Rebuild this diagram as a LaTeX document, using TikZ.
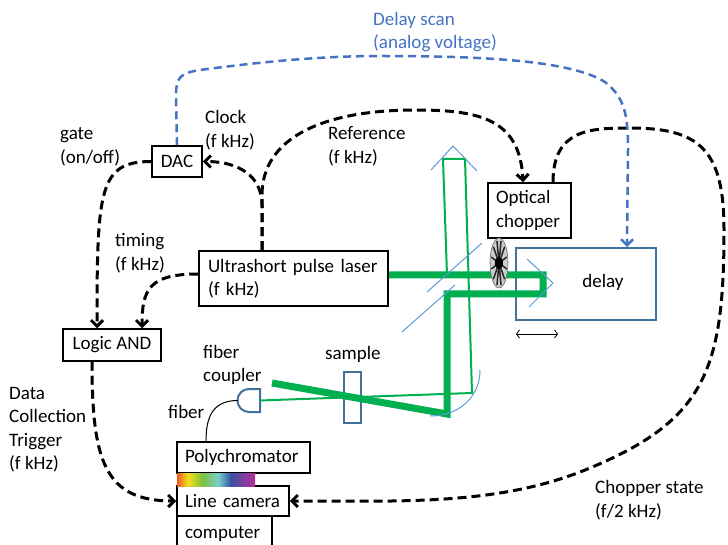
\documentclass[tikz,border=0pt]{standalone}
\usepackage{fontspec}
\setmainfont{Carlito}
\usepackage{tikz}
\usetikzlibrary{arrows.meta, positioning}

\definecolor{vertFaisceau}{HTML}{00B050}
\definecolor{bleuMiroir}{HTML}{5B9BD5}
\definecolor{bleuBoite}{HTML}{41719C}
\definecolor{bleuSignal}{HTML}{4472C4}

\begin{document}
\begin{tikzpicture}[
		x=1pt, y=-1pt,
		every node/.style={font=\fontsize{19}{23.5}\selectfont},
		% Styles des boites
		boite/.style={draw=black, fill=white, line width=1.5pt, inner sep=0pt},
		boiteTexte/.style={boite, align=left, inner xsep=8pt},
		etiquette/.style={align=left, anchor=west, inner sep=0pt},
		% Styles des signaux
		signal/.style={draw=black, line width=3pt, dash pattern=on 9pt off 5pt, -{Straight Barb[length=6pt, width=12pt]}},
		signalBleu/.style={draw=bleuSignal, line width=2.5pt, dash pattern=on 8pt off 5pt, -{Straight Barb[length=6pt, width=12pt]}},
		% Styles de la partie optique
		faisceau/.style={draw=vertFaisceau, line width=7pt},
		sonde/.style={draw=vertFaisceau, line width=2pt},
		miroir/.style={draw=bleuMiroir, line width=1pt},
		optique/.style={draw=bleuBoite, line width=2pt},
		]
		\useasboundingbox (0,0) rectangle (728,545);
		\clip (0,0) rectangle (728,545);
		
		% Ligne a retard et echantillon
		\node[optique, minimum width=140pt, minimum height=72pt, inner sep=0pt] (delay) at (586,284) {};
		\node (delayTxt) at (603,282) {delay};
		\node[optique, minimum width=17pt, minimum height=51pt, inner sep=0pt] (sample) at (352.5,397.5) {};
		\coordinate (coupler) at (249,400.5);
		\draw[optique] (260,389) -- (249,389) arc[start angle=270, end angle=90, radius=11.5] -- (260,412) -- cycle;
		
		% Boites
		\node[boite, minimum width=50pt, minimum height=31pt] (dac) at (177,161.5) {DAC};
		\node[boiteTexte, text width=171pt, inner xsep=9pt, minimum height=55pt] (laser) at (293.5,278.5) {Ultrashort pulse laser\\(f kHz)};
		\node[boite, minimum width=98pt, minimum height=32pt] (logic) at (112,345) {Logic AND};
		\node[boiteTexte, text width=67pt, minimum height=55pt] (chopper) at (529.5,210.5) {Optical\\chopper};
		\node[boiteTexte, text width=117pt, minimum height=31pt] (poly) at (243.5,457.5) {Polychromator};
		\node[boiteTexte, text width=96pt, minimum height=30pt] (camera) at (233,501) {Line camera};
		\node[boiteTexte, text width=79pt, minimum height=36pt] (computer) at (224.5,534) {computer};
		
		% Spectre sous le polychromateur
		\shade[left color={rgb,255:red,238;green,90;blue,36}, right color={rgb,255:red,244;green,224;blue,28}] (177,473) rectangle (188,486);
		\shade[left color={rgb,255:red,244;green,224;blue,28}, right color={rgb,255:red,121;green,192;blue,67}] (188,473) rectangle (203,486);
		\shade[left color={rgb,255:red,121;green,192;blue,67}, right color={rgb,255:red,122;green,208;blue,203}] (203,473) rectangle (218,486);
		\shade[left color={rgb,255:red,122;green,208;blue,203}, right color={rgb,255:red,54;green,81;blue,163}] (218,473) rectangle (231,486);
		\shade[left color={rgb,255:red,54;green,81;blue,163}, right color={rgb,255:red,138;green,60;blue,159}] (231,473) rectangle (245,486);
		\shade[left color={rgb,255:red,138;green,60;blue,159}, right color={rgb,255:red,176;green,48;blue,142}] (245,473) rectangle (255,486);
		
		% Faisceaux
		\draw[faisceau] ([yshift=3.5pt]laser.east) -- (543,275) -- (543,294) -- (447,294) -- (447,414) -- (272,383);
		\draw[sonde] ([xshift=11pt]coupler) -- (472,393) -- (465,159) -- (443,159) -- (447,275);
		
		% Miroirs
		\draw[miroir] (431,170) -- (453,146) -- (477,171);
		\draw[miroir] (427,292) -- (482,243);
		\draw[miroir] (402,332) -- (455,285);
		\draw[miroir] (527,259) -- (553,283) -- (529,307);
		\draw[miroir] (480,370) .. controls (480,398) and (458,416) .. (430,416);
		
		% Roue du hacheur
		\fill[black!20] (499,263) ellipse [x radius=9, y radius=25];
		\foreach \a in {15,45,...,345}
			\draw[black!85, line width=1.5pt] (499,263) -- ++(\a:8 and 23);
		\fill[black] (499,263) ellipse [x radius=4, y radius=6];
		\draw[black!60, line width=0.6pt] (499,263) ellipse [x radius=9, y radius=25];
		
		% Fibre et deplacement
		\draw[line width=1pt] ([xshift=-11pt]coupler) .. controls +(-25,0) and +(0,-25) .. ([xshift=-37.5pt]poly.north);
		\draw[line width=0.8pt, {Straight Barb[length=3pt, width=8pt]}-{Straight Barb[length=3pt, width=8pt]}] ([shift={(1pt,-13pt)}]delay.south west) -- ([shift={(43pt,-13pt)}]delay.south west);
		
		% Signaux
		\draw[signal] (dac.west) .. controls +(-52,0) and +(0,-139) .. ([xshift=-15pt]logic.north);
		\draw[signal] ([yshift=4.5pt]laser.west) .. controls +(-49,0) and +(0,-39) .. ([xshift=30pt]logic.north);
		\draw[signal] ([xshift=-31.5pt]laser.north) -- ++(0,-45) .. controls +(0,-30) and +(35,0) .. (dac.east);
		\draw[signal] ([xshift=-31.5pt]laser.north) -- ++(0,-55) .. controls +(0,-56) and +(-96,0) .. (416,110) .. controls +(64,0) and +(-3,-63) .. ([xshift=-6.5pt]chopper.north);
		\draw[signal] ([xshift=23.5pt]chopper.north) .. controls +(0,-53) and +(-40,0) .. (630,128) .. controls +(70,0) and +(0,-80) .. (724,230) .. controls +(0,140) and +(115,-48) .. (590,468) .. controls +(-90,38) and +(111,0) .. (camera.east);
		\draw[signal] ([xshift=-20pt]logic.south) .. controls +(0,99) and +(-72,0) .. (camera.west);
		\draw[signalBleu] (dac.north) -- (176,95) .. controls (176,78) and (180,73) .. (200,70) .. controls (260,62) and (320,56) .. (380,56) .. controls (480,56) and (570,60) .. (605,82) .. controls (625,98) and (628,115) .. (628,150) -- ([xshift=41pt]delay.north);
		
		% Etiquettes
		\node[etiquette, text=bleuSignal] (scanLbl) at (373,32) {Delay scan\\(analog voltage)};
		\node[etiquette] (clockLbl) at (205,130) {Clock\\(f kHz)};
		\node[etiquette] (gateLbl) at (60,147) {gate\\(on/off)};
		\node[etiquette] (refLbl) at (328,146.5) {Reference\\(f kHz)};
		\node[etiquette] (timingLbl) at (115,253) {timing\\(f kHz)};
		\node[etiquette] (dataLbl) at (9,429.5) {Data\\Collection\\Trigger\\(f kHz)};
		\node[etiquette] (couplerLbl) at (203,365) {fiber\\coupler};
		\node[etiquette] (sampleLbl) at (325,354) {sample};
		\node[etiquette] (fiberLbl) at (168,412) {fiber};
		\node[etiquette] (stateLbl) at (595,500) {Chopper state\\(f/2 kHz)};
		
\end{tikzpicture}
\end{document}
